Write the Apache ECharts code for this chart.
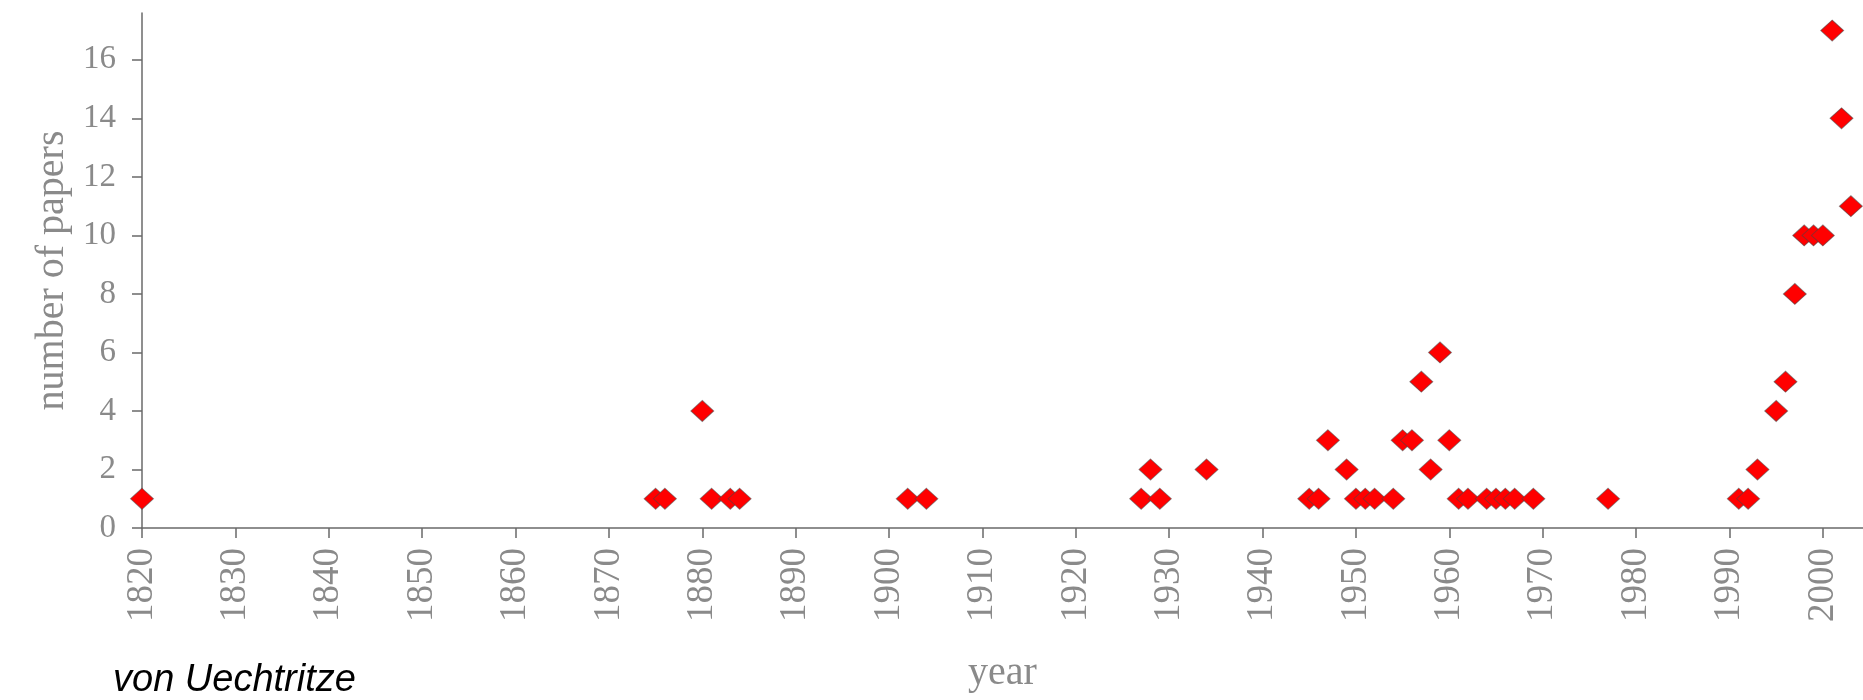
<!DOCTYPE html>
<html>
<head>
<meta charset="utf-8">
<script src="https://cdn.jsdelivr.net/npm/echarts@6/dist/echarts.min.js"></script>
<style>
html,body{margin:0;padding:0;background:#fff;}
#chart{width:1863px;height:700px;}
</style>
</head>
<body>
<div id="chart"></div>
<script>
// Data
const years = [1820, 1875, 1876, 1880, 1881, 1883, 1884, 1902, 1904,
  1927, 1928, 1929, 1934, 1945, 1946, 1947, 1949, 1950, 1951, 1952, 1954,
  1955, 1956, 1957, 1958, 1959, 1960, 1961, 1962, 1964, 1965, 1966, 1967, 1969,
  1977, 1991, 1992, 1993, 1995, 1996, 1997, 1998, 1999, 2000, 2001, 2002, 2003];
const papers = [1, 1, 1, 4, 1, 1, 1, 1, 1,
  1, 2, 1, 2, 1, 1, 3, 2, 1, 1, 1, 1,
  3, 3, 5, 2, 6, 3, 1, 1, 1, 1, 1, 1, 1,
  1, 1, 1, 2, 4, 5, 8, 10, 10, 10, 17, 14, 11];
const xTicks = [1820, 1830, 1840, 1850, 1860, 1870, 1880, 1890, 1900, 1910,
  1920, 1930, 1940, 1950, 1960, 1970, 1980, 1990, 2000];
const yTicks = [0, 2, 4, 6, 8, 10, 12, 14, 16];
const xTitle = 'year';
const yTitle = 'number of papers';
const caption = 'von Uechtritze';

const points = years.map((y, i) => [y, papers[i]]);
const serif = '"Liberation Serif", "DejaVu Serif", serif';
const labelColor = '#8a8a8a';
const axisColor = '#6a6a6a';

const chart = echarts.init(document.getElementById('chart'));
chart.setOption({
  animation: false,
  backgroundColor: '#ffffff',
  grid: { left: 142, right: 0, top: 13, bottom: 172, containLabel: false },
  xAxis: {
    type: 'value',
    min: 1820,
    max: 2004.3,
    name: xTitle,
    nameLocation: 'middle',
    nameGap: 125,
    nameTextStyle: { fontFamily: serif, fontSize: 40, color: labelColor },
    splitLine: { show: false },
    axisLine: { show: true, lineStyle: { color: axisColor, width: 1.5 } },
    axisTick: { show: true, inside: false, length: 10, customValues: xTicks,
      lineStyle: { color: axisColor, width: 1.5 } },
    axisLabel: { customValues: xTicks, rotate: 90, margin: 20,
      formatter: v => String(v),
      fontFamily: serif, fontSize: 37, color: labelColor }
  },
  yAxis: {
    type: 'value',
    min: 0,
    max: 17.6,
    name: yTitle,
    nameLocation: 'middle',
    nameRotate: 90,
    nameGap: 68,
    nameTextStyle: { fontFamily: serif, fontSize: 40, color: labelColor },
    splitLine: { show: false },
    axisLine: { show: true, lineStyle: { color: axisColor, width: 1.5 } },
    axisTick: { show: true, inside: false, length: 10, customValues: yTicks,
      lineStyle: { color: axisColor, width: 1.5 } },
    axisLabel: { customValues: yTicks, margin: 26,
      formatter: v => String(v),
      fontFamily: serif, fontSize: 33, color: labelColor }
  },
  series: [{
    type: 'scatter',
    data: points,
    symbol: 'diamond',
    symbolSize: [23, 21],
    clip: false,
    itemStyle: { color: '#ff0000', opacity: 1, borderColor: 'rgba(70,70,70,0.55)', borderWidth: 1 }
  }],
  graphic: [{
    type: 'text',
    left: 113,
    top: 661,
    style: {
      text: caption,
      fontFamily: '"Liberation Sans", Arial, sans-serif',
      fontStyle: 'italic',
      fontSize: 38,
      fill: '#000000'
    }
  }]
});
</script>
</body>
</html>
